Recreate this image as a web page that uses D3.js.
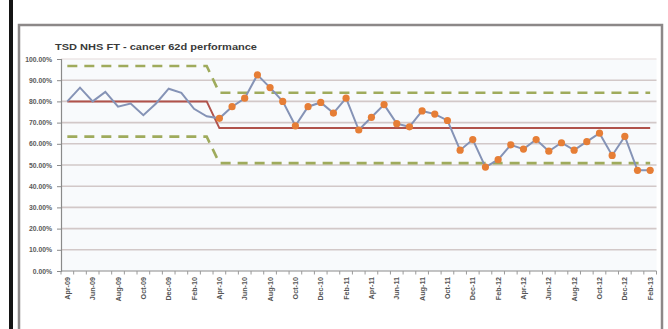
<!DOCTYPE html>
<html>
<head>
<meta charset="utf-8">
<script src="https://cdn.jsdelivr.net/npm/d3@7"></script>
<style>
  html, body { margin: 0; padding: 0; background: #ffffff; }
  svg { display: block; font-family: "Liberation Sans", Arial, sans-serif; }
</style>
</head>
<body>
<svg id="chart" width="668" height="329"></svg>
<script>
// Monthly reporting periods
const months = [
  "Apr-09","May-09","Jun-09","Jul-09","Aug-09","Sep-09","Oct-09","Nov-09","Dec-09","Jan-10","Feb-10","Mar-10",
  "Apr-10","May-10","Jun-10","Jul-10","Aug-10","Sep-10","Oct-10","Nov-10","Dec-10","Jan-11","Feb-11","Mar-11",
  "Apr-11","May-11","Jun-11","Jul-11","Aug-11","Sep-11","Oct-11","Nov-11","Dec-11","Jan-12","Feb-12","Mar-12",
  "Apr-12","May-12","Jun-12","Jul-12","Aug-12","Sep-12","Oct-12","Nov-12","Dec-12","Jan-13","Feb-13"
];

// 62-day cancer performance (%) per month
const performance = [
  80, 86.5, 80, 84.5, 77.5, 79, 73.5, 79, 86, 84, 76.5, 73,
  72, 77.5, 81.5, 92.5, 86.5, 80, 68.5, 77.5, 79.5, 74.5, 81.5, 66.5,
  72.5, 78.5, 69.5, 68, 75.5, 74, 71, 57, 62, 49, 52.5, 59.5,
  57.5, 62, 56.5, 60.5, 57, 61, 65, 54.5, 63.5, 47.5, 47.5
];

// Process phases: number of months in each, with centre line and control limits (%)
const phaseLength = [12, 35];
const phaseMean   = [80, 67.4];
const phaseUpper  = [96.7, 84.1];
const phaseLower  = [63.4, 50.9];
// Phases whose points are highlighted with markers
const phaseMarked = [false, true];

const yTicks = [0, 10, 20, 30, 40, 50, 60, 70, 80, 90, 100];
const title = "TSD NHS FT - cancer 62d performance";

// Expand phase settings to one entry per month
const phaseOf = [];
phaseLength.forEach((n, p) => { for (let i = 0; i < n; i++) phaseOf.push(p); });
const rows = months.map((m, i) => ({
  month: m,
  value: performance[i],
  mean: phaseMean[phaseOf[i]],
  upper: phaseUpper[phaseOf[i]],
  lower: phaseLower[phaseOf[i]],
  marked: phaseMarked[phaseOf[i]]
}));

const svg = d3.select("#chart");

// Outer frame edge
svg.append("rect").attr("x", 9).attr("y", 0).attr("width", 4).attr("height", 329).attr("fill", "#141414");

// Chart area border
svg.append("rect")
  .attr("x", 19).attr("y", 25).attr("width", 643).attr("height", 330)
  .attr("fill", "#ffffff").attr("stroke", "#8c8888").attr("stroke-width", 2.5);

const plot = { left: 61, right: 656.5, top: 59, bottom: 271 };

const x = d3.scaleBand().domain(months).range([plot.left, plot.right]);
const cx = m => x(m) + x.bandwidth() / 2;
const y = d3.scaleLinear().domain([0, 100]).range([plot.bottom, plot.top]);

// Plot area background
svg.append("rect")
  .attr("x", plot.left).attr("y", plot.top)
  .attr("width", plot.right - plot.left).attr("height", plot.bottom - plot.top)
  .attr("fill", "#f8fafc");

// Horizontal gridlines
svg.append("g")
  .selectAll("line")
  .data(yTicks.filter(t => t > 0))
  .join("line")
  .attr("x1", plot.left).attr("x2", plot.right)
  .attr("y1", d => y(d)).attr("y2", d => y(d))
  .attr("stroke", d => d === 100 ? "#ece6e6" : "#d2c8c8")
  .attr("stroke-width", 1.6);

// Title
svg.append("text")
  .attr("x", 55).attr("y", 49.5)
  .attr("font-size", 9.5).attr("font-weight", "bold").attr("fill", "#3a3a3a")
  .attr("textLength", 202).attr("lengthAdjust", "spacingAndGlyphs")
  .text(title);

// Y axis
const yAxis = d3.axisLeft(y)
  .tickValues(yTicks)
  .tickFormat(d => d3.format(".2f")(d) + "%")
  .tickSize(4)
  .tickPadding(5);
const gy = svg.append("g").attr("transform", `translate(${plot.left},0)`).call(yAxis);
gy.select(".domain").attr("stroke", "#8a8a8a").attr("stroke-width", 1.2);
gy.selectAll(".tick line").attr("stroke", "#8a8a8a");
gy.selectAll(".tick text")
  .attr("font-size", 6.8).attr("font-weight", "bold").attr("fill", "#5a5a5a")
  .attr("font-family", "'Liberation Sans', Arial, sans-serif");

// X axis: ticks between categories, labels on every other month
const gx = svg.append("g").attr("transform", `translate(0,${plot.bottom})`);
gx.append("line")
  .attr("x1", plot.left).attr("x2", plot.right)
  .attr("stroke", "#8a8a8a").attr("stroke-width", 1.2);
gx.selectAll("line.tick")
  .data(months.concat([null]))
  .join("line")
  .attr("class", "tick")
  .attr("x1", (d, i) => plot.left + i * x.step())
  .attr("x2", (d, i) => plot.left + i * x.step())
  .attr("y1", 0).attr("y2", 3.5)
  .attr("stroke", "#9a9a9a");
gx.selectAll("text")
  .data(months.filter((m, i) => i % 2 === 0))
  .join("text")
  .attr("transform", d => `translate(${cx(d) + 2.5},6) rotate(-90)`)
  .attr("text-anchor", "end")
  .attr("font-size", 7.2).attr("font-weight", "bold").attr("fill", "#555")
  .text(d => d);

// Control limits (dashed)
const limitLine = key => d3.line().x(d => cx(d.month)).y(d => y(d[key]));
["upper", "lower"].forEach(key => {
  svg.append("path")
    .datum(rows)
    .attr("d", limitLine(key))
    .attr("fill", "none")
    .attr("stroke", "#9fab5c")
    .attr("stroke-width", 2.6)
    .attr("stroke-dasharray", "10,7");
});

// Centre line
svg.append("path")
  .datum(rows)
  .attr("d", limitLine("mean"))
  .attr("fill", "none")
  .attr("stroke", "#b0524b")
  .attr("stroke-width", 2);

// Performance line
svg.append("path")
  .datum(rows)
  .attr("d", limitLine("value"))
  .attr("fill", "none")
  .attr("stroke", "#8593b6")
  .attr("stroke-width", 2);

// Markers for highlighted phase
svg.append("g")
  .selectAll("circle")
  .data(rows.filter(d => d.marked))
  .join("circle")
  .attr("cx", d => cx(d.month))
  .attr("cy", d => y(d.value))
  .attr("r", 3.6)
  .attr("fill", "#e67e36");
</script>
</body>
</html>
